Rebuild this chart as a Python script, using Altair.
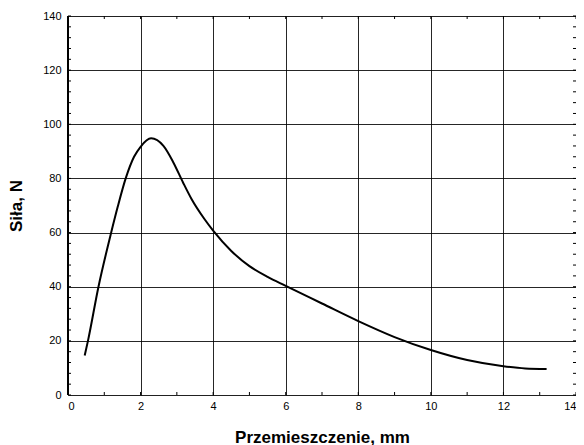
import altair as alt
import pandas as pd

# Curve data
disp = [0.46, 0.55, 0.84, 1.19, 1.37, 1.59, 1.82, 2.0, 2.29, 2.63, 2.9, 3.17, 3.4, 3.76,
        4.0, 4.5, 5.0, 5.5, 6.0, 7.0, 8.0, 9.0, 10.0, 11.0, 12.0, 12.6, 13.19]
force = [14.6, 20.0, 40.0, 60.0, 69.5, 80.0, 88.0, 91.7, 94.8, 92.0, 86.0, 78.5, 72.5, 65.0,
         60.7, 53.2, 47.6, 43.6, 40.3, 33.8, 27.3, 21.4, 16.6, 12.9, 10.6, 9.8, 9.6]

x_ticks = [0, 2, 4, 6, 8, 10, 12, 14]
y_ticks = [0, 20, 40, 60, 80, 100, 120, 140]
x_minor = list(range(0, 15))
y_minor = list(range(0, 141, 4))

W, H = 508, 379
FONT = "Liberation Sans"

df = pd.DataFrame({"x": disp, "y": force})
dxm = pd.DataFrame({"x": x_minor})
dym = pd.DataFrame({"y": y_minor})

xs = alt.Scale(domain=[0, 14], nice=False, zero=False)
ys = alt.Scale(domain=[0, 140], nice=False, zero=False)

xaxis = alt.Axis(values=x_ticks, grid=True, gridColor="black", gridWidth=1, gridOpacity=0.85,
                 domain=False, ticks=False, labelPadding=5, labelFont=FONT, labelFontSize=11,
                 labelColor="black", title="Przemieszczenie, mm", titleFont=FONT,
                 titleFontSize=17, titleFontWeight="bold", titleColor="black", titlePadding=18)
yaxis = alt.Axis(values=y_ticks, grid=True, gridColor="black", gridWidth=1, gridOpacity=0.85,
                 domain=False, ticks=False, labelPadding=7, labelFont=FONT, labelFontSize=11,
                 labelColor="black", title="Siła, N", titleFont=FONT, titleFontSize=17,
                 titleFontWeight="bold", titleColor="black", titlePadding=17)

line = alt.Chart(df).mark_line(color="black", strokeWidth=2, interpolate="monotone").encode(
    x=alt.X("x:Q", scale=xs, axis=xaxis),
    y=alt.Y("y:Q", scale=ys, axis=yaxis),
)

left_t = alt.Chart(dym).mark_rule(color="black", strokeWidth=1).encode(
    y=alt.Y("y:Q", scale=ys), x=alt.value(0), x2=alt.value(3))
right_t = alt.Chart(dym).mark_rule(color="black", strokeWidth=1).encode(
    y=alt.Y("y:Q", scale=ys), x=alt.value(W - 3), x2=alt.value(W))
bot_t = alt.Chart(dxm).mark_rule(color="black", strokeWidth=1).encode(
    x=alt.X("x:Q", scale=xs), y=alt.value(H - 3), y2=alt.value(H))
top_t = alt.Chart(dxm).mark_rule(color="black", strokeWidth=1).encode(
    x=alt.X("x:Q", scale=xs), y=alt.value(0), y2=alt.value(3))
left_edge = alt.Chart(dxm.head(1)).mark_rule(color="black", strokeWidth=2).encode(
    x=alt.value(0), y=alt.value(0), y2=alt.value(H))

chart = alt.layer(line, left_t, right_t, bot_t, top_t, left_edge).properties(
    width=W, height=H, autosize="none",
    padding={"left": 60, "top": 8, "right": 0, "bottom": 52},
).configure_view(stroke="black", strokeWidth=1).configure(background="white")

chart.save("out.html", embed_options={"renderer": "svg", "actions": False})
